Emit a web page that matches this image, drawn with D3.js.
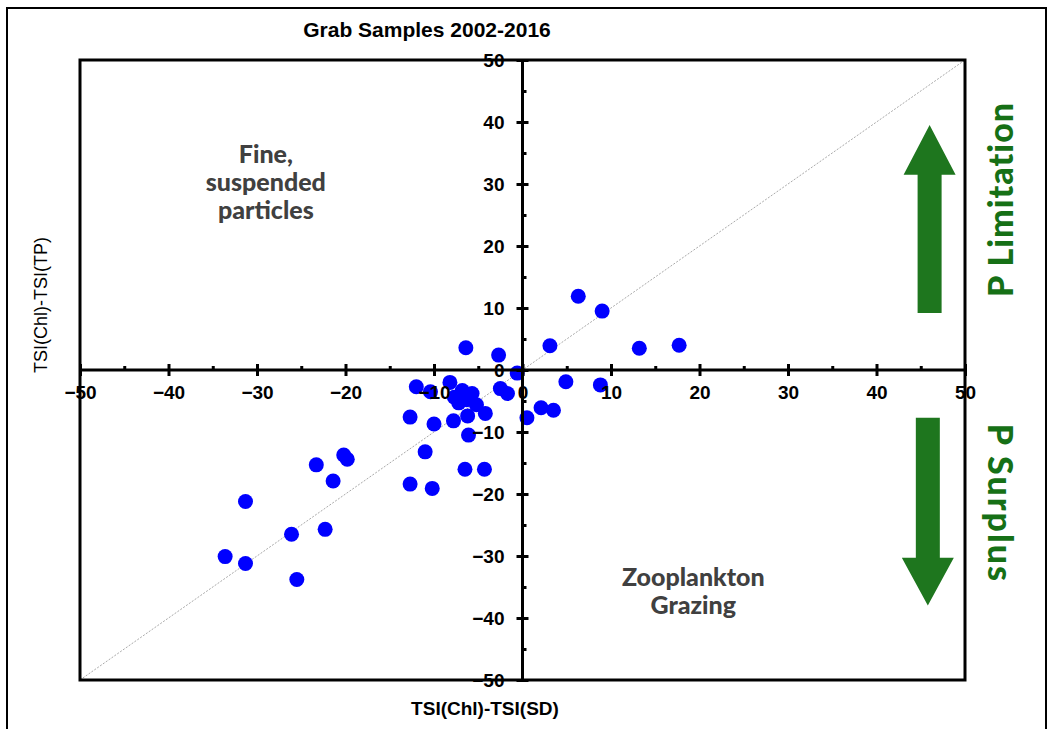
<!DOCTYPE html>
<html>
<head>
<meta charset="utf-8">
<script src="https://cdn.jsdelivr.net/npm/d3@7"></script>
<style>
  html, body { margin: 0; padding: 0; background: #fff; }
  svg { display: block; }
</style>
</head>
<body>
<div id="chart"></div>
<script>
(function () {
  "use strict";

  // TSI(Chl)-TSI(SD) vs TSI(Chl)-TSI(TP), grab samples
  var xVals = [6.3, 9.0, 3.1, 13.2, 17.7, -6.4, -2.7,
               -0.6,
               4.9, 8.8, 2.1, 3.5, 0.5,
               -12.0, -8.2, -10.4, -6.8, -5.7, -7.7, -7.2, -5.2, -4.2, -6.2, -7.8, -10.0, -12.7, -6.1, -2.5, -1.7, -6.3,
               -11.0, -6.5, -4.3, -12.7, -10.2,
               -31.3, -23.3, -20.2, -19.8, -21.4, -26.1, -22.3, -33.6, -31.3, -25.5];
  var yVals = [11.9, 9.5, 3.9, 3.5, 4.0, 3.6, 2.4,
               -0.5,
               -1.9, -2.4, -6.1, -6.5, -7.7,
               -2.7, -2.0, -3.5, -3.3, -3.8, -4.4, -5.3, -5.6, -7.0, -7.4, -8.2, -8.7, -7.6, -10.5, -3.0, -3.8, -4.8,
               -13.2, -16.0, -16.0, -18.4, -19.1,
               -21.2, -15.3, -13.7, -14.4, -17.9, -26.5, -25.7, -30.1, -31.2, -33.8];

  var majorTicks = [-50, -40, -30, -20, -10, 0, 10, 20, 30, 40, 50];
  var minorTicks = [-45, -35, -25, -15, -5, 5, 15, 25, 35, 45];

  var BLUE = "#0000ff";
  var GREEN = "#1e761e";
  var GREEN_TEXT = "#167016";
  var GREY_TEXT = "#404040";
  var FONT = "'Liberation Sans', Arial, sans-serif";
  var FONT2 = "Lato, 'Noto Sans', sans-serif";

  var W = 1050, H = 729;
  var left = 80, right = 965, top = 60, bottom = 680;

  var svg = d3.select("#chart").append("svg")
    .attr("width", W).attr("height", H);

  // outer frame
  svg.append("rect")
    .attr("x", 7).attr("y", 8).attr("width", 1039).attr("height", 740)
    .attr("fill", "none").attr("stroke", "#000").attr("stroke-width", 2);

  var x = d3.scaleLinear().domain([-50, 50]).range([left, right]);
  var y = d3.scaleLinear().domain([-50, 50]).range([bottom, top]);

  // 1:1 line
  svg.append("line")
    .attr("x1", x(-50)).attr("y1", y(-50))
    .attr("x2", x(50)).attr("y2", y(50))
    .attr("stroke", "#aaa").attr("stroke-width", 1)
    .attr("stroke-dasharray", "2,1.5");

  // quadrant labels
  var quadText = [
    { lines: ["Fine,", "suspended", "particles"], x: -29, y: 33.4 },
    { lines: ["Zooplankton", "Grazing"], x: 19.3, y: -34.9 }
  ];
  quadText.forEach(function (q) {
    q.lines.forEach(function (t, i) {
      svg.append("text")
        .attr("x", x(q.x)).attr("y", y(q.y) + i * 28)
        .attr("text-anchor", "middle")
        .attr("font-family", FONT2).attr("font-weight", "900")
        .attr("font-size", "25px").attr("fill", GREY_TEXT)
        .text(t);
    });
  });

  // arrows (data units)
  var arrows = [
    { cx: 46.0, shaftEnd: 9.2, headBase: 31.5, tip: 39.5 },
    { cx: 45.8, shaftEnd: -7.7, headBase: -30.3, tip: -38.0 }
  ];
  arrows.forEach(function (a) {
    var c = x(a.cx), sw = 12, hw = 26;
    var pts = [
      [c - sw, y(a.shaftEnd)], [c + sw, y(a.shaftEnd)],
      [c + sw, y(a.headBase)], [c + hw, y(a.headBase)],
      [c, y(a.tip)],
      [c - hw, y(a.headBase)], [c - sw, y(a.headBase)]
    ];
    svg.append("polygon")
      .attr("points", pts.map(function (p) { return p.join(","); }).join(" "))
      .attr("fill", GREEN);
  });

  // side labels
  svg.append("text")
    .attr("transform", "translate(1013," + y(27.5) + ") rotate(-90)")
    .attr("text-anchor", "middle")
    .attr("font-family", FONT2).attr("font-weight", "900")
    .attr("font-size", "34px").attr("letter-spacing", "1px").attr("fill", GREEN_TEXT)
    .text("P Limitation");
  svg.append("text")
    .attr("transform", "translate(988," + y(-21.5) + ") rotate(90)")
    .attr("text-anchor", "middle")
    .attr("font-family", FONT2).attr("font-weight", "900")
    .attr("font-size", "34px").attr("letter-spacing", "2px").attr("fill", GREEN_TEXT)
    .text("P Surplus");

  // points
  svg.append("g").selectAll("circle")
    .data(d3.range(xVals.length))
    .join("circle")
      .attr("cx", function (i) { return x(xVals[i]); })
      .attr("cy", function (i) { return y(yVals[i]); })
      .attr("r", 7.5)
      .attr("fill", BLUE);

  // plot frame
  svg.append("rect")
    .attr("x", left).attr("y", top)
    .attr("width", right - left).attr("height", bottom - top)
    .attr("fill", "none").attr("stroke", "#000").attr("stroke-width", 3);

  // x axis through y=0
  var gx = svg.append("g")
    .attr("transform", "translate(0," + y(0) + ")")
    .call(d3.axisBottom(x).tickValues(majorTicks).tickSize(6).tickPadding(10)
      .tickFormat(d3.format("d")));
  gx.select(".domain").remove();
  gx.selectAll(".tick line")
    .attr("y1", -6).attr("y2", 6)
    .attr("stroke", "#000").attr("stroke-width", 3);
  gx.selectAll(".tick text")
    .attr("font-family", FONT).attr("font-weight", "bold")
    .attr("font-size", "19px").attr("fill", "#000");

  var gxm = svg.append("g")
    .attr("transform", "translate(0," + y(0) + ")")
    .call(d3.axisTop(x).tickValues(minorTicks).tickSize(4).tickFormat(""));
  gxm.select(".domain").remove();
  gxm.selectAll(".tick line").attr("stroke", "#000").attr("stroke-width", 3);

  // y axis through x=0
  var gy = svg.append("g")
    .attr("transform", "translate(" + x(0) + ",0)")
    .call(d3.axisLeft(y).tickValues(majorTicks).tickSize(6).tickPadding(12)
      .tickFormat(d3.format("d")));
  gy.select(".domain").remove();
  gy.selectAll(".tick line")
    .attr("x1", 6).attr("x2", -6)
    .attr("stroke", "#000").attr("stroke-width", 3);
  gy.selectAll(".tick text")
    .attr("font-family", FONT).attr("font-weight", "bold")
    .attr("font-size", "19px").attr("fill", "#000");

  var gym = svg.append("g")
    .attr("transform", "translate(" + x(0) + ",0)")
    .call(d3.axisRight(y).tickValues(minorTicks).tickSize(4).tickFormat(""));
  gym.select(".domain").remove();
  gym.selectAll(".tick line").attr("stroke", "#000").attr("stroke-width", 3);

  // axis lines
  svg.append("line")
    .attr("x1", left).attr("x2", right).attr("y1", y(0)).attr("y2", y(0))
    .attr("stroke", "#000").attr("stroke-width", 3);
  svg.append("line")
    .attr("x1", x(0)).attr("x2", x(0)).attr("y1", top).attr("y2", bottom)
    .attr("stroke", "#000").attr("stroke-width", 3);

  // titles
  svg.append("text")
    .attr("x", 427).attr("y", 37)
    .attr("text-anchor", "middle")
    .attr("font-family", FONT).attr("font-weight", "bold")
    .attr("font-size", "21px").attr("fill", "#000")
    .text("Grab Samples 2002-2016");

  svg.append("text")
    .attr("x", 485).attr("y", 715)
    .attr("text-anchor", "middle")
    .attr("font-family", FONT).attr("font-weight", "bold")
    .attr("font-size", "19px").attr("fill", "#000")
    .text("TSI(Chl)-TSI(SD)");

  svg.append("text")
    .attr("transform", "translate(47,305) rotate(-90)")
    .attr("text-anchor", "middle")
    .attr("font-family", FONT)
    .attr("font-size", "18px").attr("fill", "#000")
    .text("TSI(Chl)-TSI(TP)");
}());
</script>
</body>
</html>
